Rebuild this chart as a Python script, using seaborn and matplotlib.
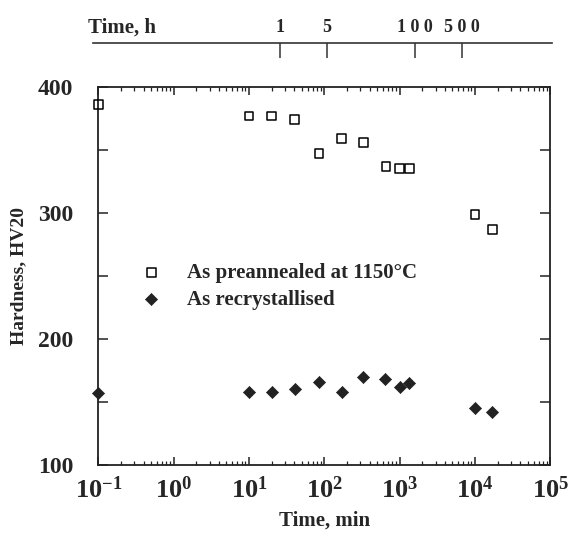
import matplotlib
matplotlib.use('Agg')
import matplotlib.pyplot as plt
from matplotlib.ticker import LogLocator, NullFormatter, MultipleLocator, FixedLocator, FixedFormatter
import seaborn as sns
import pandas as pd

# Values
time_pre = [0.1, 10, 20, 40, 85, 170, 330, 660, 1000, 1350, 10000, 17000]
hv_pre = [386, 377, 377, 374, 347, 359, 356, 337, 335, 335, 299, 287]

time_rec = [0.1, 10, 20, 41, 85, 170, 330, 650, 1000, 1350, 10000, 17000]
hv_rec = [157, 158, 158, 160, 166, 158, 170, 168, 162, 165, 145, 142]

label_pre = 'As preannealed at 1150°C'
label_rec = 'As recrystallised'

hour_ticks = [1, 5, 100, 500]
hour_labels = ['1', '5', '1 0 0', '5 0 0']

sns.set_style('ticks')
plt.rcParams['font.family'] = ['Liberation Serif', 'DejaVu Serif']
plt.rcParams['font.weight'] = 'bold'
plt.rcParams['mathtext.fontset'] = 'custom'
plt.rcParams['mathtext.rm'] = 'Liberation Serif:bold'
plt.rcParams['mathtext.it'] = 'Liberation Serif:bold'
plt.rcParams['mathtext.bf'] = 'Liberation Serif:bold'

df_pre = pd.DataFrame({'time': time_pre, 'hv': hv_pre})
df_rec = pd.DataFrame({'time': time_rec, 'hv': hv_rec})

fig = plt.figure(figsize=(5.78, 5.47), dpi=100)
ax = fig.add_axes([0.170, 0.150, 0.782, 0.691])

sns.scatterplot(data=df_pre, x='time', y='hv', marker='s', s=40,
                facecolors='none', edgecolor='black', linewidth=1.1,
                label=label_pre, ax=ax, clip_on=False, zorder=3)
sns.scatterplot(data=df_rec, x='time', y='hv', marker='D', s=38,
                color='#222222', edgecolor='#222222',
                label=label_rec, ax=ax, clip_on=False, zorder=3)

ax.set_xscale('log')
ax.set_xlim(0.1, 1e5)
ax.set_ylim(100, 400)
ax.xaxis.set_major_locator(LogLocator(base=10, numticks=10))
ax.xaxis.set_minor_locator(LogLocator(base=10, subs=range(2, 10), numticks=20))
ax.xaxis.set_minor_formatter(NullFormatter())
ax.yaxis.set_major_locator(MultipleLocator(100))
ax.yaxis.set_minor_locator(MultipleLocator(50))

for s in ax.spines.values():
    s.set_linewidth(1.3)
    s.set_color('#222222')

ax.tick_params(axis='x', which='both', direction='in', top=True, bottom=True,
               color='#222222')
ax.tick_params(axis='x', which='major', length=6, width=1.1, labelsize=19, pad=8)
ax.tick_params(axis='x', which='minor', length=3, width=0.9)
ax.tick_params(axis='y', which='both', direction='in', left=True, right=True,
               length=7, width=1.1, color='#222222', labelsize=17, pad=18)

ax.set_xlabel('Time, min', fontsize=15, fontweight='bold', labelpad=6)
ax.set_ylabel('Hardness, HV20', fontsize=14, fontweight='bold', labelpad=8)

leg = ax.legend(loc='upper left', bbox_to_anchor=(0.03, 0.585), frameon=False,
                prop={'family': 'Liberation Serif', 'weight': 'bold', 'size': 15},
                handletextpad=0.7, labelspacing=0.35, markerscale=1.0)

# top axis in hours, drawn as a separate bar above the plot
axh = fig.add_axes([0.161, 0.880, 0.794, 0.041])
axh.set_xscale('log')
axh.set_xlim(1.7e-3, 1.07e4)
axh.set_ylim(0, 1)
axh.patch.set_visible(False)
for side in ['left', 'right', 'bottom']:
    axh.spines[side].set_visible(False)
axh.spines['top'].set_linewidth(1.2)
axh.spines['top'].set_color('#333333')
axh.set_yticks([])
axh.xaxis.set_major_locator(FixedLocator(hour_ticks))
axh.xaxis.set_major_formatter(FixedFormatter(hour_labels))
axh.xaxis.set_minor_locator(FixedLocator([]))
axh.tick_params(axis='x', which='major', direction='in', top=True, bottom=False,
                labeltop=True, labelbottom=False, length=11, width=1.1,
                color='#333333', labelsize=13, pad=5)
fig.text(0.152, 0.949, 'Time, h', fontsize=15, fontweight='bold', ha='left', va='center')

fig.savefig('out.png', dpi=100)
